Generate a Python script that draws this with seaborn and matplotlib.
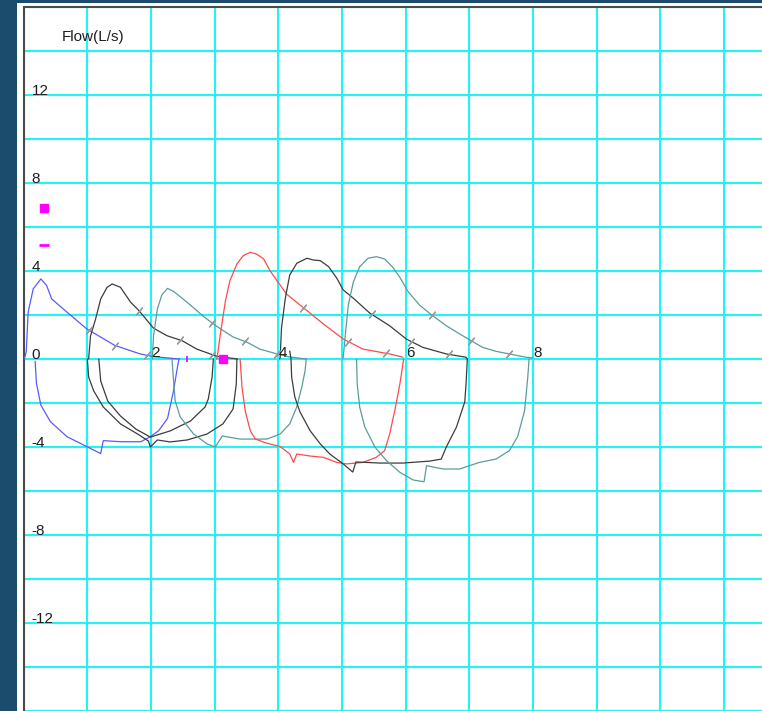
import numpy as np
import pandas as pd
import matplotlib
matplotlib.use("Agg")
import matplotlib.pyplot as plt
import seaborn as sns
from matplotlib.patches import Rectangle

sns.set_theme(style="white")
plt.rcParams['font.family'] = ['Liberation Sans', 'DejaVu Sans']

# ---- trial 1 (blue) ----
t1_exp_vol = [0.01, 0.04, 0.07, 0.15, 0.27, 0.36, 0.44, 0.68, 0.99, 1.43, 1.82, 2.03, 2.45]
t1_exp_flow = [0.0, 0.33, 2.13, 3.19, 3.64, 3.34, 2.73, 2.13, 1.37, 0.62, 0.24, 0.11, 0.0]
t1_insp_vol = [2.44, 2.42, 2.35, 2.26, 2.12, 1.99, 1.84, 1.52, 1.25, 1.21, 0.68, 0.42, 0.27, 0.20, 0.18]
t1_insp_flow = [0.0, -0.3, -1.5, -2.7, -3.26, -3.53, -3.76, -3.76, -3.71, -4.3, -3.53, -2.85, -2.1, -1.1, -0.1]
t1_marks = [1.02, 1.44, 1.94]

# ---- trial 2 (black) ----
t2_exp_vol = [1.02, 1.05, 1.13, 1.21, 1.31, 1.39, 1.52, 1.68, 1.81, 2.04, 2.25, 2.49, 2.72, 2.93, 3.04, 3.36]
t2_exp_flow = [0.0, 1.05, 1.82, 2.73, 3.26, 3.41, 3.26, 2.58, 2.2, 1.4, 1.06, 0.83, 0.45, 0.23, 0.12, 0.0]
t2_insp_a_vol = [2.98, 2.96, 2.90, 2.85, 2.62, 2.30, 1.99, 1.76, 1.52, 1.32, 1.21, 1.18]
t2_insp_a_flow = [0.0, -0.82, -1.82, -2.18, -2.82, -3.27, -3.55, -3.18, -2.59, -1.91, -1.0, 0.0]
t2_insp_b_vol = [3.35, 3.34, 3.29, 3.13, 2.88, 2.57, 2.30, 2.10, 1.99, 1.96, 1.79, 1.52, 1.25, 1.10, 1.02, 1.0]
t2_insp_b_flow = [0.0, -1.14, -2.27, -2.95, -3.41, -3.68, -3.77, -3.68, -4.0, -3.73, -3.41, -2.95, -2.18, -1.45, -0.82, 0.0]
t2_marks = [1.81, 2.46, 2.96]

# ---- trial 3 (teal) ----
t3_exp_vol = [2.02, 2.04, 2.10, 2.17, 2.26, 2.36, 2.46, 2.62, 2.83, 3.04, 3.29, 3.51, 3.71, 3.98, 4.18, 4.44]
t3_exp_flow = [0.0, 1.05, 2.27, 2.91, 3.21, 3.06, 2.83, 2.45, 1.92, 1.47, 1.0, 0.76, 0.45, 0.23, 0.09, 0.0]
t3_insp_vol = [4.44, 4.42, 4.37, 4.29, 4.18, 4.03, 3.82, 3.40, 3.12, 3.01, 2.88, 2.67, 2.46, 2.38, 2.35, 2.33]
t3_insp_flow = [0.0, -0.55, -1.27, -2.18, -2.95, -3.41, -3.64, -3.64, -3.5, -4.0, -3.86, -3.41, -2.64, -1.91, -0.82, 0.0]
t3_marks = [2.96, 3.47, 3.98]

# ---- trial 4 (red) ----
t4_exp_vol = [3.03, 3.04, 3.09, 3.17, 3.24, 3.35, 3.45, 3.56, 3.66, 3.77, 3.87, 3.98, 4.13, 4.42, 4.71, 5.02, 5.33, 5.75, 5.96]
t4_exp_flow = [0.0, 0.08, 1.14, 2.65, 3.56, 4.32, 4.7, 4.85, 4.77, 4.55, 4.01, 3.56, 2.95, 2.27, 1.59, 0.91, 0.45, 0.23, 0.08]
t4_insp_vol = [5.97, 5.91, 5.83, 5.75, 5.67, 5.54, 5.33, 5.07, 4.92, 4.71, 4.50, 4.29, 4.24, 4.18, 4.03, 3.82, 3.64, 3.56, 3.48, 3.43, 3.40]
t4_insp_flow = [0.0, -1.14, -2.35, -3.41, -4.17, -4.47, -4.7, -4.77, -4.7, -4.47, -4.41, -4.32, -4.7, -4.32, -3.98, -3.83, -3.64, -3.26, -2.35, -1.27, 0.0]
t4_marks = [4.39, 5.10, 5.70]

# ---- trial 5 (black) ----
t5_exp_vol = [4.02, 4.03, 4.05, 4.11, 4.18, 4.29, 4.45, 4.55, 4.66, 4.79, 4.92, 5.02, 5.18, 5.44, 5.75, 6.01, 6.27, 6.64, 6.95, 6.97]
t5_exp_flow = [0.0, 0.08, 1.4, 2.76, 3.82, 4.35, 4.58, 4.5, 4.47, 4.2, 3.67, 3.14, 2.76, 2.08, 1.51, 0.91, 0.53, 0.23, 0.08, 0.0]
t5_insp_vol = [6.97, 6.95, 6.93, 6.80, 6.64, 6.56, 6.38, 5.96, 5.60, 5.22, 5.17, 5.02, 4.81, 4.66, 4.50, 4.34, 4.26, 4.21, 4.20, 4.18]
t5_insp_flow = [0.0, -1.14, -1.95, -3.09, -4.0, -4.55, -4.64, -4.73, -4.73, -4.68, -5.14, -4.77, -4.32, -3.86, -3.26, -2.4, -1.73, -0.82, 0.0, 0.36]
t5_marks = [5.47, 6.09, 6.68]

# ---- trial 6 (teal) ----
t6_exp_vol = [5.01, 5.02, 5.05, 5.10, 5.18, 5.28, 5.41, 5.54, 5.67, 5.80, 5.91, 6.04, 6.22, 6.41, 6.64, 6.85, 7.03, 7.21, 7.42, 7.63, 7.89, 8.0]
t6_exp_flow = [0.0, 0.08, 1.0, 2.45, 3.51, 4.2, 4.58, 4.65, 4.55, 4.17, 3.71, 3.06, 2.45, 2.0, 1.51, 1.14, 0.83, 0.53, 0.35, 0.23, 0.08, 0.05]
t6_insp_vol = [7.94, 7.92, 7.87, 7.76, 7.63, 7.42, 7.16, 6.85, 6.59, 6.33, 6.29, 6.12, 5.91, 5.70, 5.52, 5.36, 5.28, 5.24, 5.23]
t6_insp_flow = [0.0, -0.82, -2.35, -3.53, -4.17, -4.55, -4.7, -5.0, -5.0, -4.85, -5.58, -5.5, -5.15, -4.62, -4.01, -3.1, -2.2, -1.14, 0.0]
t6_marks = [6.41, 7.03, 7.62]

trial_colors = {"1": "#5a5aff", "2": "#3c3c3c", "3": "#5a9c9c",
                "4": "#ff4a4a", "5": "#3c3c3c", "6": "#5a9c9c"}

segments = [
    ("1", "1e", t1_exp_vol, t1_exp_flow), ("1", "1i", t1_insp_vol, t1_insp_flow),
    ("2", "2e", t2_exp_vol, t2_exp_flow), ("2", "2a", t2_insp_a_vol, t2_insp_a_flow),
    ("2", "2b", t2_insp_b_vol, t2_insp_b_flow),
    ("3", "3e", t3_exp_vol, t3_exp_flow), ("3", "3i", t3_insp_vol, t3_insp_flow),
    ("4", "4e", t4_exp_vol, t4_exp_flow), ("4", "4i", t4_insp_vol, t4_insp_flow),
    ("5", "5e", t5_exp_vol, t5_exp_flow), ("5", "5i", t5_insp_vol, t5_insp_flow),
    ("6", "6e", t6_exp_vol, t6_exp_flow), ("6", "6i", t6_insp_vol, t6_insp_flow),
]
rows = []
for trial, seg, vol, flow in segments:
    for k, (v, f) in enumerate(zip(vol, flow)):
        rows.append({"trial": trial, "segment": seg, "order": k, "volume": v, "flow": f})
df = pd.DataFrame(rows)

W, H = 762, 711
fig = plt.figure(figsize=(W / 100, H / 100), dpi=100, facecolor="#1b4b6d")
fig.patches.append(Rectangle((17 / W, 0), 1, 1 - 3 / H, transform=fig.transFigure,
                             facecolor="white", edgecolor="none", zorder=-5))
ax = fig.add_axes([23.7 / W, 0, 1 - 23.7 / W, 1 - 7 / H])
ax.set_zorder(1)
ax.set_facecolor("white")
ax.set_xlim(0, 11.6)
ax.set_ylim(-15.86, 16)

ax.set_xticks(np.arange(0, 12, 1))
ax.set_yticks(np.arange(-16, 17, 2))
ax.grid(True, color="#1ff5f5", lw=1.5)
ax.set_axisbelow(True)
ax.tick_params(length=0, labelbottom=False, labelleft=False)
for side in ("right", "bottom"):
    ax.spines[side].set_visible(False)
for side in ("left", "top"):
    ax.spines[side].set_color("#4a4a4a")
    ax.spines[side].set_linewidth(1.5)

sns.lineplot(data=df, x="volume", y="flow", hue="trial", units="segment",
             estimator=None, sort=False, palette=trial_colors, legend=False,
             lw=0.9, ax=ax, zorder=3)
ax.set_xlabel("")
ax.set_ylabel("")

# one-second time marks on each expiratory limb
for exp_v, exp_f, marks in [(t1_exp_vol, t1_exp_flow, t1_marks), (t2_exp_vol, t2_exp_flow, t2_marks),
                            (t3_exp_vol, t3_exp_flow, t3_marks), (t4_exp_vol, t4_exp_flow, t4_marks),
                            (t5_exp_vol, t5_exp_flow, t5_marks), (t6_exp_vol, t6_exp_flow, t6_marks)]:
    peak = int(np.argmax(exp_f))
    mv = np.array(marks)
    mf = np.interp(mv, exp_v[peak:], exp_f[peak:])
    ax.plot(mv, mf, ls="none", marker=(2, 2, -40), ms=7, mec="#9a9a9a", mew=1.0, zorder=4)

# magenta markers
ax.plot([0.32], [6.85], ls="none", marker="s", ms=6, mfc="#ff00ff", mec="#ff00ff", zorder=5)
ax.plot([0.32], [5.18], ls="none", marker="_", ms=6.5, mec="#ff00ff", mew=2, zorder=5)
ax.plot([3.13], [0.0], ls="none", marker="s", ms=5.5, mfc="#ff00ff", mec="#ff00ff", zorder=5)
ax.plot([2.56], [0.0], ls="none", marker="|", ms=5, mec="#ff00ff", mew=1.3, zorder=5)

# axis numbering drawn inside the plot
flow_labels = [12, 8, 4, 0, -4, -8, -12]
volume_labels = [2, 4, 6, 8]
for y in flow_labels:
    ax.text(0.125, y, str(y), ha="left", va="baseline", fontsize=11, color="#1e1e1e", zorder=6)
for x in volume_labels:
    ax.text(x + 0.01, 0.08, str(x), ha="left", va="baseline", fontsize=11, color="#1e1e1e", zorder=6)
ax.text(0.6, 14.47, "Flow(L/s)", ha="left", va="baseline", fontsize=11, color="#1e1e1e", zorder=6)

fig.savefig("out.png", dpi=100, facecolor=fig.get_facecolor())
